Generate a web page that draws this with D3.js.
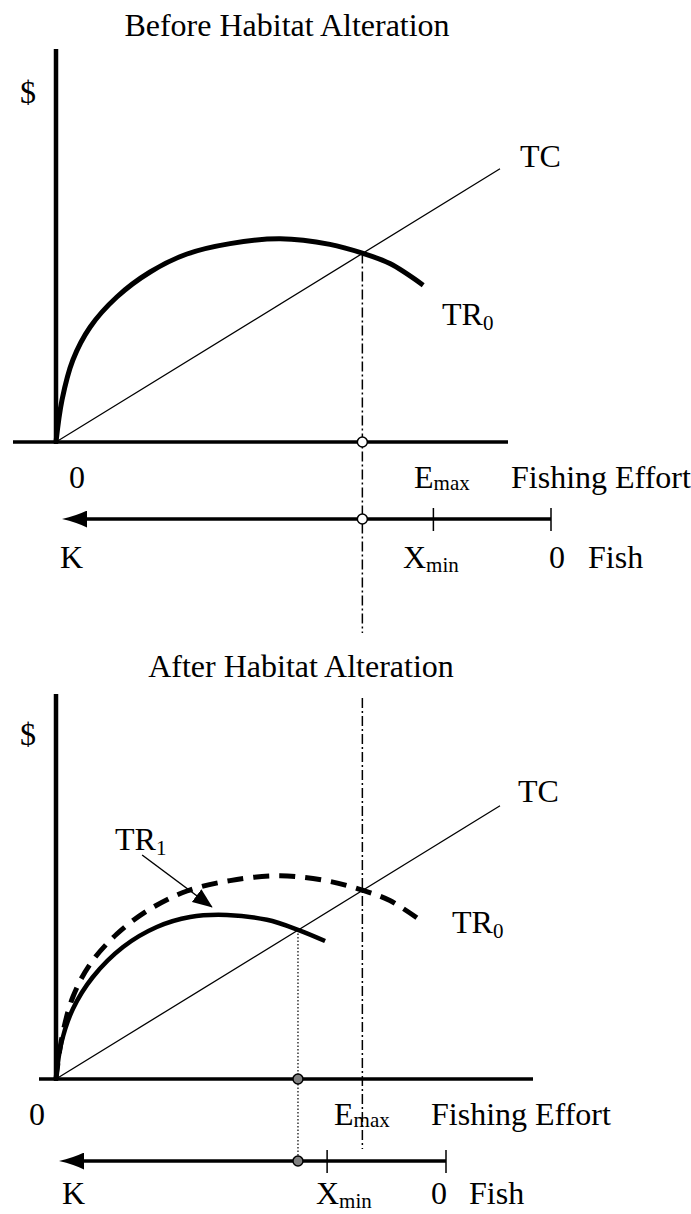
<!DOCTYPE html>
<html>
<head>
<meta charset="utf-8">
<script src="https://cdn.jsdelivr.net/npm/d3@7"></script>
<style>
  body { margin: 0; background: #fff; }
  svg { display: block; }
  text { font-family: "Liberation Serif", "Times New Roman", serif; font-size: 32px; fill: #000; }
</style>
</head>
<body>
<div id="chart-area"></div>
<script>
// effort (0-100) vs dollars (0-100)
const titles = ['Before Habitat Alteration', 'After Habitat Alteration'];
const tcLine = [[0, 0], [100, 68.3]];
const tr0Curve = [[0, 0], [1.35, 10.5], [3.8, 20.5], [7.7, 28.75], [13.7, 36.25], [21.2, 42.5], [29.5, 47],
  [39.2, 49.6], [50.5, 50.8], [61.7, 49.4], [69, 47.2], [75.2, 44.6], [82.7, 39.2]];
const tr1Curve = [[0, 0], [1.2, 9], [3.8, 17.5], [8.3, 25.5], [15.1, 33], [22.7, 38], [30.2, 40.5],
  [38.5, 41], [47.5, 39.8], [54.5, 37.3], [60.6, 34.5]];
const openAccessEffort = [69, 54.5];   // TC = TR crossing, before / after
const tr1Pointer = [[19.4, 56], [35.1, 43]];
// fish stock axis, 0..K
const fishK = 100;
const xMinStock = [24.1, 30.8];
const effortLabels = ['0', 'E', 'max', 'Fishing Effort'];
const fishLabels = ['K', 'X', 'min', '0', 'Fish'];

const panels = [
  { y0: 442, yTop: 49, titleX: 287, titleY: 36, axisX: [13, 508], dollarY: 103,
    tcLabel: [520, 167], trLabel: [442, 325], effortLabelY: 488, effortLabelX: [69, 414, 511],
    fishY: 519, fishRange: [551, 63], fishLabelY: 568, fishLabelX: [60, 403, 549, 588],
    lineTo: 633 },
  { y0: 1079, yTop: 694, titleX: 301, titleY: 677, axisX: [39, 533], dollarY: 745,
    tcLabel: [518, 802], trLabel: [452, 933], effortLabelY: 1125, effortLabelX: [29, 334, 431],
    fishY: 1161, fishRange: [446, 60], fishLabelY: 1204, fishLabelX: [62, 316, 431, 469],
    lineFrom: 698, lineTo: 1149 }
];

const subLabel = (g, x, y, main, sub, shift = 5) => {
  const t = g.append('text').attr('x', x).attr('y', y);
  t.append('tspan').text(main);
  t.append('tspan').attr('font-size', 21).attr('dy', shift).text(sub);
  return t;
};

const drawPanel = (svg, p, i) => {
  const x = d3.scaleLinear().domain([0, 100]).range([56, 500]);
  const y = d3.scaleLinear().domain([0, 100]).range([p.y0, p.y0 - 400]);
  const fish = d3.scaleLinear().domain([0, fishK]).range(p.fishRange);
  const line = d3.line().x(d => x(d[0])).y(d => y(d[1]));
  const curve = d3.line().x(d => x(d[0])).y(d => y(d[1])).curve(d3.curveCatmullRom.alpha(0.5));
  const g = svg.append('g');

  g.append('text').attr('x', p.titleX).attr('y', p.titleY)
    .attr('text-anchor', 'middle').text(titles[i]);
  g.append('text').attr('x', 20).attr('y', p.dollarY).text('$');

  // axes
  g.append('line').attr('x1', x(0)).attr('x2', x(0)).attr('y1', p.yTop).attr('y2', p.y0 + 2)
    .attr('stroke', '#000').attr('stroke-width', 4.5);
  g.append('line').attr('x1', p.axisX[0]).attr('x2', p.axisX[1]).attr('y1', p.y0).attr('y2', p.y0)
    .attr('stroke', '#000').attr('stroke-width', 3.5);

  // equilibrium effort guides
  const eOpen = openAccessEffort[0];
  g.append('line').attr('x1', x(eOpen)).attr('x2', x(eOpen))
    .attr('y1', i === 0 ? y(tcLine[1][1] * eOpen / 100) : p.lineFrom).attr('y2', p.lineTo)
    .attr('stroke', '#000').attr('stroke-width', 1.5).attr('stroke-dasharray', '10,3,2,3');
  if (i === 1) {
    const e1 = openAccessEffort[1];
    g.append('line').attr('x1', x(e1)).attr('x2', x(e1))
      .attr('y1', y(tcLine[1][1] * e1 / 100)).attr('y2', p.fishY)
      .attr('stroke', '#000').attr('stroke-width', 1.2).attr('stroke-dasharray', '1.5,2');
  }

  g.append('path').datum(tcLine).attr('d', line)
    .attr('fill', 'none').attr('stroke', '#000').attr('stroke-width', 1.3);
  g.append('path').datum(tr0Curve).attr('d', curve)
    .attr('fill', 'none').attr('stroke', '#000').attr('stroke-width', 5)
    .attr('stroke-dasharray', i === 1 ? '16,10' : null);
  if (i === 1) {
    g.append('path').datum(tr1Curve).attr('d', curve)
      .attr('fill', 'none').attr('stroke', '#000').attr('stroke-width', 4.5);
    g.append('path').datum(tr1Pointer).attr('d', line)
      .attr('stroke', '#000').attr('stroke-width', 1.5).attr('marker-end', 'url(#head)');
    subLabel(g, 115, 850, 'TR', '1');
  }

  g.append('text').attr('x', p.tcLabel[0]).attr('y', p.tcLabel[1]).text('TC');
  subLabel(g, p.trLabel[0], p.trLabel[1], 'TR', '0');

  // effort labels
  g.append('text').attr('x', p.effortLabelX[0]).attr('y', p.effortLabelY).text(effortLabels[0]);
  subLabel(g, p.effortLabelX[1], p.effortLabelY, effortLabels[1], effortLabels[2], 2);
  g.append('text').attr('x', p.effortLabelX[2]).attr('y', p.effortLabelY).text(effortLabels[3]);

  // fish stock axis
  g.append('line').attr('x1', fish(0)).attr('x2', fish(fishK) + 22).attr('y1', p.fishY).attr('y2', p.fishY)
    .attr('stroke', '#000').attr('stroke-width', 3.5).attr('marker-end', 'url(#fishHead)');
  g.selectAll('.tick').data([xMinStock[i], 0]).enter().append('line')
    .attr('x1', d => fish(d)).attr('x2', d => fish(d))
    .attr('y1', p.fishY - 11).attr('y2', p.fishY + 12)
    .attr('stroke', '#000').attr('stroke-width', 1.5);
  g.append('text').attr('x', p.fishLabelX[0]).attr('y', p.fishLabelY).text(fishLabels[0]);
  subLabel(g, p.fishLabelX[1], p.fishLabelY, fishLabels[1], fishLabels[2], 4);
  g.append('text').attr('x', p.fishLabelX[2]).attr('y', p.fishLabelY).text(fishLabels[3]);
  g.append('text').attr('x', p.fishLabelX[3]).attr('y', p.fishLabelY).text(fishLabels[4]);

  // markers on the axes
  const eMark = openAccessEffort[i];
  g.selectAll('circle').data([p.y0, p.fishY]).enter().append('circle')
    .attr('cx', x(eMark)).attr('cy', d => d).attr('r', 5)
    .attr('fill', i === 0 ? '#fff' : '#808080').attr('stroke', '#000').attr('stroke-width', 1.5);
};

const main = () => {
  const svg = d3.select('#chart-area').append('svg').attr('width', 691).attr('height', 1214);
  const defs = svg.append('defs');
  defs.append('marker').attr('id', 'head').attr('markerUnits', 'userSpaceOnUse')
    .attr('viewBox', '0 0 20 16').attr('refX', 19).attr('refY', 8)
    .attr('markerWidth', 20).attr('markerHeight', 16).attr('orient', 'auto')
    .append('path').attr('d', 'M0,0 L20,8 L0,16 Z').attr('fill', '#000');
  defs.append('marker').attr('id', 'fishHead').attr('markerUnits', 'userSpaceOnUse')
    .attr('viewBox', '0 0 25 17').attr('refX', 2).attr('refY', 8.5)
    .attr('markerWidth', 25).attr('markerHeight', 17).attr('orient', 'auto')
    .append('path').attr('d', 'M0,0 Q10,5 25,8.5 Q10,12 0,17 Z').attr('fill', '#000');
  panels.forEach((p, i) => drawPanel(svg, p, i));
};
window.onload = main;
</script>
</body>
</html>
